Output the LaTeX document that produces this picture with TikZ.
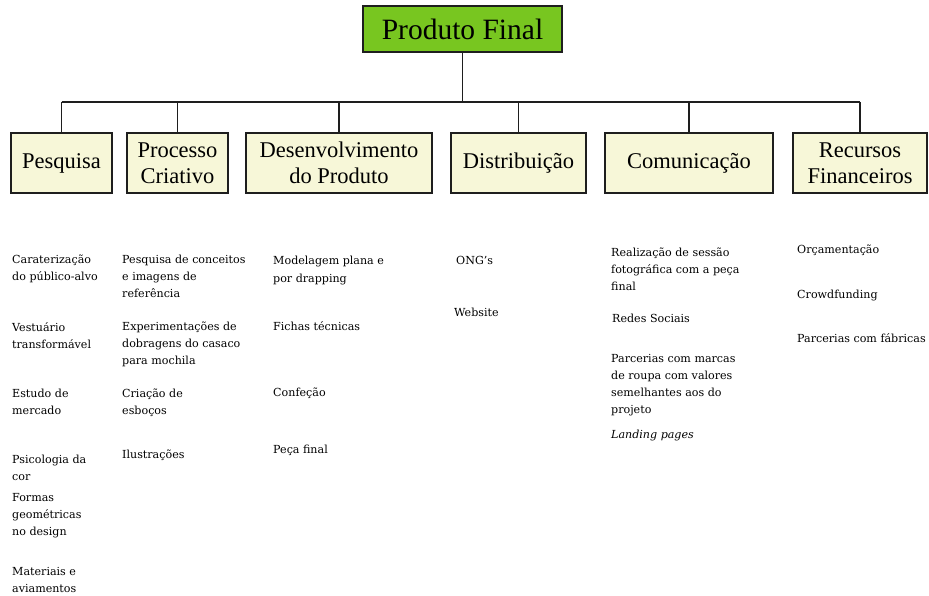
\documentclass[tikz,border=0pt]{standalone}
\usepackage{fontspec}
\setmainfont{Liberation Serif}
\newfontfamily\itemfont{DejaVu Serif}
\newcommand\mylines[1]{\vtop{\baselineskip=17.3pt\lineskiplimit=-20pt\lineskip=0pt\ialign{##\hfil\cr#1\crcr}}}
\definecolor{topgreen}{RGB}{120,198,32}
\definecolor{catfill}{RGB}{247,247,216}
\definecolor{edge}{RGB}{30,30,30}
\begin{document}
\begin{tikzpicture}[x=1pt,y=-1pt,
  topbox/.style={draw=edge, line width=1.6pt, fill=topgreen, minimum width=199pt, minimum height=46pt, inner sep=0pt, font=\fontsize{29.5}{34}\selectfont},
  cat/.style={draw=edge, line width=1.6pt, fill=catfill, inner sep=0pt, minimum height=60pt, align=center, font=\fontsize{22.5}{26}\selectfont},
  item/.style={anchor=base west, inner sep=0pt, font=\itemfont\fontsize{11.1}{17.3}\selectfont},
  conn/.style={line width=1.6pt, draw=edge}]
\useasboundingbox (0,0) rectangle (929,596);
\fill[white] (0,0) rectangle (929,596);

\node[topbox] (top) at (462.5,29) {Produto Final};

\node[cat, minimum width=101pt] (b1) at (61.5,163) {Pesquisa};
\node[cat, minimum width=101pt] (b2) at (177.5,163) {Processo\\Criativo};
\node[cat, minimum width=186pt] (b3) at (339,163) {Desenvolvimento\\do Produto};
\node[cat, minimum width=135pt] (b4) at (518.5,163) {Distribuição};
\node[cat, minimum width=168pt] (b5) at (689,163) {Comunicação};
\node[cat, minimum width=134pt] (b6) at (860,163) {Recursos\\Financeiros};

\coordinate (bus) at (462.5,102);
\draw[conn] (top.south) -- (bus);
\draw[conn] (bus -| b1.north) -- (bus -| b6.north);
\foreach \b in {b1,b2,b3,b4,b5,b6}{
  \draw[conn] (bus -| \b.north) -- (\b.north);
}

% Pesquisa
\node[item] (p1) at (12,263) {\mylines{Caraterização\cr do público-alvo}};
\node[item] (p2) at (12,331) {\mylines{Vestuário\cr transformável}};
\node[item] (p3) at (12,397) {\mylines{Estudo de\cr mercado}};
\node[item] (p4) at (12,463) {\mylines{Psicologia da\cr cor}};
\node[item] (p5) at (12,501) {\mylines{Formas\cr geométricas\cr no design}};
\node[item] (p6) at (12,575) {\mylines{Materiais e\cr aviamentos}};

% Processo Criativo
\node[item] (c1) at (122,263) {\mylines{Pesquisa de conceitos\cr e imagens de\cr referência}};
\node[item] (c2) at (122,330) {\mylines{Experimentações de\cr dobragens do casaco\cr para mochila}};
\node[item] (c3) at (122,397) {\mylines{Criação de\cr esboços}};
\node[item] (c4) at (122,458) {Ilustrações};

% Desenvolvimento do Produto
\node[item] (d1) at (273,265) {\mylines{Modelagem plana e\cr por drapping}};
\node[item] (d2) at (273,330) {Fichas técnicas};
\node[item] (d3) at (273,396) {Confeção};
\node[item] (d4) at (273,453) {Peça final};

% Distribuicao
\node[item] (s1) at (456,264) {ONG’s};
\node[item] (s2) at (454,316) {Website};

% Comunicacao
\node[item] (m1) at (611,256) {\mylines{Realização de sessão\cr fotográfica com a peça\cr final}};
\node[item] (m2) at (612,322) {Redes Sociais};
\node[item] (m3) at (611,362) {\mylines{Parcerias com marcas\cr de roupa com valores\cr semelhantes aos do\cr projeto}};
\node[item] (m4) at (611,438) {\itshape Landing pages};

% Recursos Financeiros
\node[item] (r1) at (797,253) {Orçamentação};
\node[item] (r2) at (797,298) {Crowdfunding};
\node[item] (r3) at (797,342) {Parcerias com fábricas};
\end{tikzpicture}
\end{document}
